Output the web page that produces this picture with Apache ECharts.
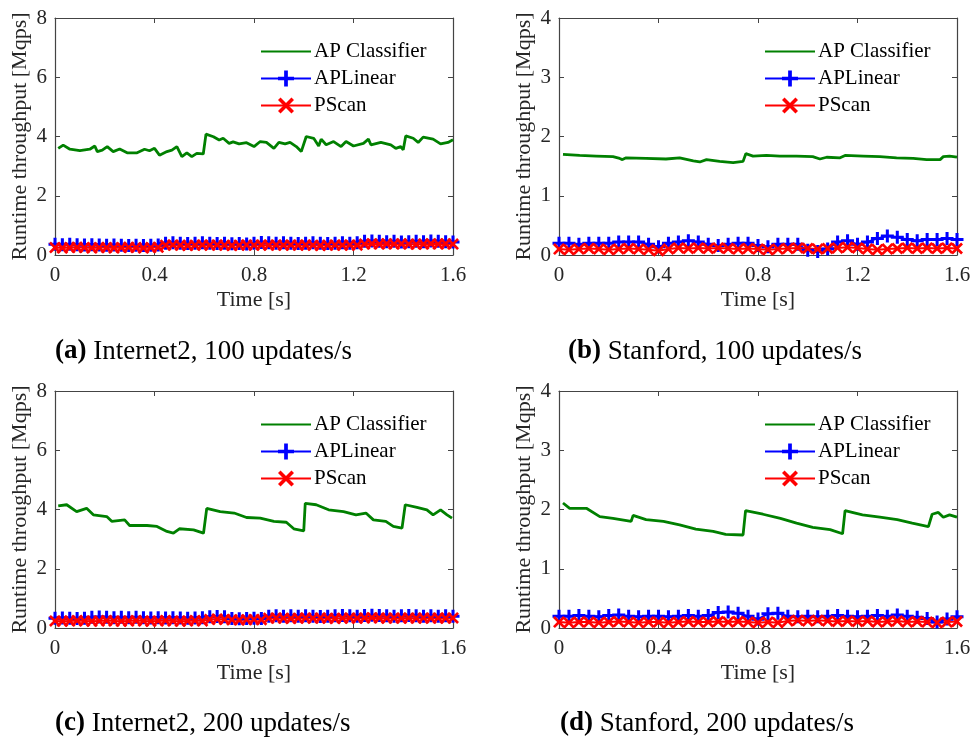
<!DOCTYPE html>
<html>
<head>
<meta charset="utf-8">
<script src="https://cdn.jsdelivr.net/npm/echarts@6/dist/echarts.min.js"></script>
<style>
  html, body { margin: 0; padding: 0; background: #fff; }
  #main { width: 975px; height: 744px; }
</style>
</head>
<body>
<div id="main"></div>
<script>
// series names and panel captions
const names = ['AP Classifier', 'APLinear', 'PScan'];
const captions = [
    ['(a)', ' Internet2, 100 updates/s'],
    ['(b)', ' Stanford, 100 updates/s'],
    ['(c)', ' Internet2, 200 updates/s'],
    ['(d)', ' Stanford, 200 updates/s']
];
const xTicks = [0, 0.4, 0.8, 1.2, 1.6];
const yMax = [8, 4, 8, 4];
const yStep = [2, 1, 2, 1];

// AP Classifier, [time s, Mqps]
const greenA = [[0.013,3.6],[0.033,3.71],[0.06,3.57],[0.1,3.52],[0.14,3.57],[0.16,3.68],[0.17,3.49],[0.19,3.54],[0.21,3.66],[0.234,3.49],[0.26,3.58],[0.29,3.45],[0.33,3.45],[0.36,3.57],[0.38,3.52],[0.4,3.6],[0.42,3.37],[0.45,3.49],[0.47,3.54],[0.49,3.66],[0.51,3.32],[0.53,3.45],[0.55,3.32],[0.57,3.43],[0.596,3.41],[0.607,4.08],[0.637,3.99],[0.66,3.88],[0.676,3.94],[0.7,3.77],[0.716,3.82],[0.74,3.75],[0.77,3.79],[0.8,3.66],[0.825,3.83],[0.85,3.8],[0.88,3.6],[0.9,3.8],[0.925,3.75],[0.945,3.8],[0.97,3.66],[0.99,3.49],[1.01,4.0],[1.04,3.94],[1.06,3.68],[1.07,3.91],[1.09,3.72],[1.12,3.83],[1.15,3.66],[1.17,3.83],[1.2,3.68],[1.24,3.77],[1.26,3.91],[1.27,3.72],[1.31,3.8],[1.35,3.72],[1.37,3.6],[1.39,3.66],[1.4,3.55],[1.41,4.02],[1.44,3.94],[1.46,3.8],[1.48,3.98],[1.52,3.91],[1.55,3.75],[1.58,3.8],[1.6,3.89]];
const greenB = [[0.016,1.7],[0.083,1.68],[0.15,1.67],[0.217,1.66],[0.244,1.63],[0.255,1.61],[0.27,1.64],[0.35,1.63],[0.43,1.62],[0.485,1.64],[0.54,1.59],[0.566,1.57],[0.593,1.61],[0.646,1.58],[0.7,1.56],[0.74,1.58],[0.751,1.71],[0.78,1.67],[0.834,1.68],[0.888,1.67],[0.955,1.67],[1.02,1.66],[1.049,1.62],[1.076,1.65],[1.13,1.64],[1.15,1.68],[1.156,1.7],[1.223,1.67],[1.29,1.66],[1.357,1.64],[1.424,1.63],[1.478,1.61],[1.532,1.61],[1.545,1.66],[1.57,1.67],[1.6,1.65]];
const greenC = [[0.013,4.12],[0.047,4.16],[0.087,3.93],[0.127,4.04],[0.154,3.82],[0.208,3.76],[0.228,3.6],[0.28,3.65],[0.3,3.46],[0.37,3.46],[0.41,3.43],[0.45,3.26],[0.476,3.2],[0.5,3.35],[0.557,3.31],[0.597,3.2],[0.61,4.04],[0.664,3.93],[0.72,3.88],[0.77,3.73],[0.825,3.71],[0.88,3.6],[0.93,3.57],[0.96,3.35],[1.0,3.28],[1.006,4.21],[1.05,4.16],[1.1,3.99],[1.16,3.93],[1.21,3.82],[1.25,3.88],[1.28,3.65],[1.33,3.6],[1.36,3.43],[1.395,3.37],[1.408,4.16],[1.455,4.07],[1.495,3.99],[1.52,3.82],[1.55,3.99],[1.576,3.82],[1.596,3.71]];
const greenD = [[0.016,2.11],[0.043,2.02],[0.11,2.02],[0.164,1.88],[0.217,1.85],[0.29,1.8],[0.298,1.9],[0.35,1.83],[0.42,1.8],[0.485,1.74],[0.55,1.67],[0.62,1.63],[0.67,1.58],[0.74,1.57],[0.75,1.98],[0.82,1.92],[0.89,1.85],[0.955,1.77],[1.02,1.7],[1.09,1.66],[1.14,1.59],[1.15,1.98],[1.22,1.91],[1.29,1.87],[1.36,1.83],[1.42,1.77],[1.485,1.71],[1.5,1.92],[1.525,1.95],[1.545,1.87],[1.57,1.91],[1.6,1.87]];

// APLinear and PScan, sampled evenly over 0..1.6 s
const blueA = [0.36,0.35,0.36,0.35,0.34,0.35,0.34,0.33,0.34,0.33,0.32,0.33,0.32,0.33,0.34,0.40,0.41,0.40,0.39,0.40,0.41,0.40,0.39,0.40,0.38,0.39,0.37,0.40,0.42,0.41,0.40,0.41,0.40,0.39,0.40,0.41,0.40,0.39,0.40,0.41,0.40,0.41,0.46,0.47,0.46,0.45,0.46,0.44,0.45,0.46,0.45,0.47,0.46,0.45,0.44];
const redA = [0.25,0.24,0.25,0.26,0.25,0.24,0.25,0.25,0.24,0.25,0.26,0.25,0.24,0.25,0.26,0.33,0.34,0.33,0.32,0.33,0.34,0.33,0.34,0.33,0.32,0.33,0.34,0.33,0.34,0.33,0.34,0.33,0.34,0.33,0.34,0.33,0.32,0.33,0.34,0.33,0.34,0.33,0.37,0.38,0.37,0.38,0.37,0.38,0.37,0.36,0.37,0.38,0.37,0.38,0.37];
const blueB = [0.2,0.2,0.18,0.2,0.2,0.2,0.22,0.22,0.22,0.18,0.14,0.2,0.22,0.24,0.22,0.18,0.16,0.18,0.2,0.2,0.16,0.14,0.18,0.18,0.18,0.08,0.06,0.1,0.22,0.24,0.18,0.22,0.28,0.32,0.3,0.26,0.24,0.26,0.26,0.28,0.26];
const redB = [0.1,0.09,0.1,0.11,0.1,0.09,0.1,0.11,0.1,0.09,0.07,0.1,0.12,0.11,0.12,0.11,0.12,0.11,0.1,0.11,0.1,0.09,0.1,0.11,0.12,0.11,0.1,0.11,0.12,0.13,0.12,0.1,0.09,0.1,0.11,0.12,0.11,0.12,0.11,0.12,0.11];
const blueC = [0.33,0.34,0.33,0.32,0.33,0.36,0.37,0.36,0.35,0.36,0.35,0.36,0.35,0.34,0.35,0.34,0.35,0.34,0.33,0.34,0.35,0.38,0.39,0.38,0.32,0.31,0.32,0.33,0.32,0.40,0.41,0.40,0.41,0.40,0.41,0.40,0.39,0.40,0.41,0.42,0.41,0.40,0.42,0.43,0.42,0.41,0.40,0.41,0.42,0.41,0.40,0.41,0.40,0.41,0.40];
const redC = [0.24,0.23,0.24,0.25,0.24,0.23,0.24,0.25,0.24,0.23,0.24,0.25,0.24,0.23,0.24,0.25,0.24,0.23,0.24,0.25,0.24,0.29,0.3,0.29,0.28,0.27,0.28,0.29,0.28,0.33,0.34,0.33,0.32,0.33,0.34,0.33,0.34,0.33,0.32,0.33,0.34,0.33,0.34,0.35,0.34,0.33,0.34,0.33,0.34,0.33,0.34,0.33,0.34,0.33,0.34];
const blueD = [0.2,0.2,0.21,0.2,0.19,0.21,0.22,0.2,0.19,0.2,0.2,0.19,0.2,0.21,0.2,0.21,0.26,0.27,0.25,0.2,0.15,0.24,0.25,0.2,0.19,0.2,0.19,0.2,0.21,0.2,0.19,0.2,0.21,0.2,0.22,0.2,0.18,0.16,0.1,0.15,0.19];
const redD = [0.1,0.09,0.1,0.1,0.09,0.1,0.11,0.1,0.09,0.1,0.1,0.09,0.1,0.11,0.1,0.1,0.11,0.1,0.11,0.1,0.09,0.1,0.09,0.12,0.13,0.12,0.13,0.12,0.11,0.12,0.11,0.12,0.1,0.11,0.12,0.1,0.11,0.1,0.09,0.1,0.11];

const greens = [greenA, greenB, greenC, greenD];
const blues = [blueA, blueB, blueC, blueD];
const reds = [redA, redB, redC, redD];

const FONT = '"Liberation Serif", "Times New Roman", serif';
const INK = '#262626';
const plusSym = 'path://M4.6,0H7.4V4.6H12V7.4H7.4V12H4.6V7.4H0V4.6H4.6Z';
const crossSym = 'path://M0,1.9L1.9,0L6,4.1L10.1,0L12,1.9L7.9,6L12,10.1L10.1,12L6,7.9L1.9,12L0,10.1L4.1,6Z';

// panel boxes (plot area)
const boxes = [
    { left: 55, top: 18 },
    { left: 559, top: 18 },
    { left: 55, top: 391 },
    { left: 559, top: 391 }
];
const W = 398, H = 237;

const withTime = (vals) => vals.map((v, i) => [1.6 * i / (vals.length - 1), v]);

let grid = [], xAxis = [], yAxis = [], series = [], legend = [], title = [];
boxes.forEach((b, i) => {
    grid.push({ left: b.left, top: b.top, width: W, height: H });
    const axLine = { show: true, onZero: false, lineStyle: { color: '#444', width: 1.2 } };
    const tick = { show: true, inside: true, length: 5, lineStyle: { color: '#444' } };
    xAxis.push({
        type: 'value', gridIndex: i, min: 0, max: 1.6, interval: 0.4, position: 'bottom',
        name: 'Time [s]', nameLocation: 'middle', nameGap: 34,
        nameTextStyle: { fontFamily: FONT, fontSize: 22, color: INK },
        axisLine: axLine, axisTick: tick, splitLine: { show: false },
        axisLabel: { fontFamily: FONT, fontSize: 21, color: INK, margin: 10, showMaxLabel: true, showMinLabel: true }
    });
    xAxis.push({
        type: 'value', gridIndex: i, min: 0, max: 1.6, interval: 0.4, position: 'top',
        axisLine: axLine, axisTick: tick, splitLine: { show: false }, axisLabel: { show: false }
    });
    yAxis.push({
        type: 'value', gridIndex: i, min: 0, max: yMax[i], interval: yStep[i], position: 'left',
        name: 'Runtime throughput [Mqps]', nameLocation: 'middle', nameGap: 24,
        nameTextStyle: { fontFamily: FONT, fontSize: 22, color: INK },
        axisLine: axLine, axisTick: tick, splitLine: { show: false },
        axisLabel: { fontFamily: FONT, fontSize: 21, color: INK, margin: 8, showMaxLabel: true }
    });
    yAxis.push({
        type: 'value', gridIndex: i, min: 0, max: yMax[i], interval: yStep[i], position: 'right',
        axisLine: axLine, axisTick: tick, splitLine: { show: false }, axisLabel: { show: false }
    });
    series.push({
        name: names[0], type: 'line', xAxisIndex: 2 * i, yAxisIndex: 2 * i,
        data: greens[i], symbol: 'none', color: '#008000',
        lineStyle: { color: '#008000', width: 2.8 }
    });
    series.push({
        name: names[1], type: 'line', xAxisIndex: 2 * i, yAxisIndex: 2 * i,
        data: withTime(blues[i]), symbol: plusSym, symbolSize: 13, showAllSymbol: true,
        color: '#0000ff', itemStyle: { color: '#0000ff' },
        lineStyle: { color: '#0000ff', width: 2 }
    });
    series.push({
        name: names[2], type: 'line', xAxisIndex: 2 * i, yAxisIndex: 2 * i,
        data: withTime(reds[i]), symbol: crossSym, symbolSize: 12, showAllSymbol: true,
        color: '#ff0000', itemStyle: { color: '#ff0000' },
        lineStyle: { color: '#ff0000', width: 2 }
    });
    legend.push({
        left: b.left + 200, top: b.top + 18, orient: 'vertical',
        itemWidth: 50, itemHeight: 20, itemGap: 6,
        data: [
            { name: names[0], itemStyle: { opacity: 0 } },
            names[1],
            names[2]
        ],
        textStyle: { fontFamily: FONT, fontSize: 21, color: '#000', padding: [0, 0, 0, -2] }
    });
    title.push({
        text: '{b|' + captions[i][0] + '}' + captions[i][1],
        left: [50, 563, 50, 555][i], top: i < 2 ? 333 : 705,
        textStyle: {
            fontFamily: FONT, fontSize: 27, fontWeight: 'normal', color: '#000',
            rich: { b: { fontFamily: FONT, fontSize: 27, fontWeight: 'bold', color: '#000' } }
        }
    });
});

const myChart = echarts.init(document.getElementById('main'), null, { renderer: 'canvas' });
myChart.setOption({
    animation: false,
    backgroundColor: '#fff',
    title, grid, xAxis, yAxis, series, legend
});
</script>
</body>
</html>
